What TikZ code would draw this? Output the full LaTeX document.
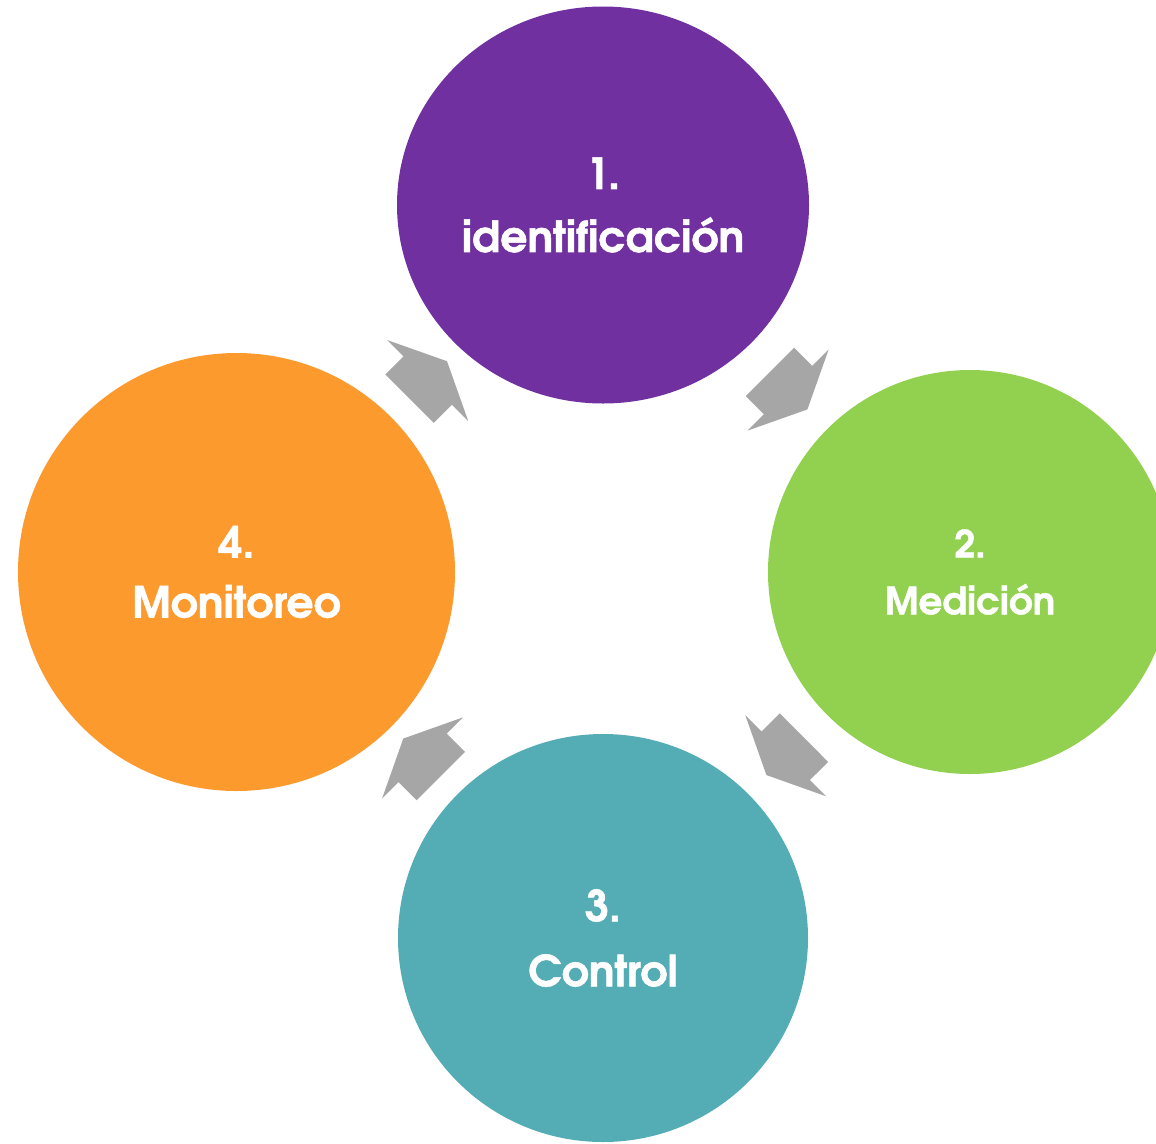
\documentclass[tikz,border=0pt]{standalone}
\usepackage{fontspec}
\setmainfont{texgyreadventor}[Extension=.otf, UprightFont=*-regular, BoldFont=*-bold, ItalicFont=*-italic, BoldItalicFont=*-bolditalic, BoldFeatures={FakeBold=1.2}]
\usetikzlibrary{shapes.geometric,shapes.arrows}
\definecolor{morado}{HTML}{7030A0}
\definecolor{verde}{HTML}{92D050}
\definecolor{turquesa}{HTML}{54ACB4}
\definecolor{naranja}{HTML}{FD9A2E}
\definecolor{gris}{HTML}{A6A6A6}
\begin{document}
\begin{tikzpicture}[x=0.75pt, y=-0.75pt,
    circulo/.style={ellipse, inner sep=0pt, outer sep=0pt, draw=none},
    texto/.style={text=white, align=center, inner sep=0pt},
    flecha/.style={single arrow, fill=gris, draw=none, sloped, allow upside down,
        anchor=center, pos=0.455, inner xsep=0pt, inner ysep=25.5pt, minimum height=39.75pt,
        single arrow head extend=17.25pt, single arrow tip angle=129}]
    % --- 描画範囲 ---
    \useasboundingbox (0,0) rectangle (1156,1143);
    \clip (0,0) rectangle (1156,1143);

    % --- 円 ---
    \node[circulo, fill=morado, minimum width=309pt, minimum height=297.75pt] (ident) at (603,205) {};
    \node[circulo, fill=verde, minimum width=303pt, minimum height=303pt] (medic) at (970,572) {};
    \node[circulo, fill=turquesa, minimum width=307.5pt, minimum height=306pt] (contr) at (603,938) {};
    \node[circulo, fill=naranja, minimum width=327.75pt, minimum height=328.5pt] (monit) at (236.5,572) {};

    % --- テキスト ---
    \node[texto, font=\bfseries\fontsize{32}{47.25}\selectfont] (t1) at (ident) {1.\\identificación};
    \node[texto, font=\bfseries\fontsize{28}{42.75}\selectfont] (t2) at (medic) {2.\\Medición};
    \node[texto, font=\bfseries\fontsize{32}{48.75}\selectfont] (t3) at (contr) {3.\\Control};
    \node[texto, font=\bfseries\fontsize{32}{45}\selectfont] (t4) at (monit) {4.\\Monitoreo};

    % --- 矢印 (時計回り) ---
    \path (ident) -- node[flecha] (f1) {} (medic);
    \path (medic) -- node[flecha] (f2) {} (contr);
    \path (contr) -- node[flecha] (f3) {} (monit);
    \path (monit) -- node[flecha] (f4) {} (ident);
\end{tikzpicture}
\end{document}
